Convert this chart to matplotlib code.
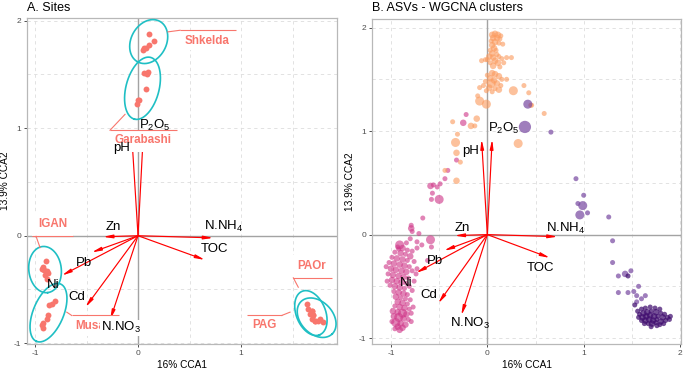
import numpy as np
import matplotlib
matplotlib.use("Agg")
import matplotlib.pyplot as plt
from matplotlib.patches import Rectangle

plt.rcParams['font.family'] = ['Liberation Sans', 'DejaVu Sans']
plt.rcParams['mathtext.fontset'] = 'custom'
plt.rcParams['mathtext.rm'] = 'Liberation Sans'
plt.rcParams['mathtext.it'] = 'Liberation Sans:italic'
plt.rcParams['mathtext.bf'] = 'Liberation Sans:bold'
plt.rcParams['axes.unicode_minus'] = False

# ---------------- data ----------------
env_names = ['pH', 'P2O5', 'Zn', 'N.NH4', 'TOC', 'Pb', 'Ni', 'Cd', 'N.NO3']
env_labels = ['pH', 'P$_2$O$_5$', 'Zn', 'N.NH$_4$', 'TOC', 'Pb', 'Ni', 'Cd', 'N.NO$_3$']
env_cca1 = [-0.06, 0.05, -0.34, 0.73, 0.65, -0.45, -0.74, -0.51, -0.27]
env_cca2 = [0.92, 0.92, -0.01, -0.02, -0.225, -0.155, -0.37, -0.665, -0.78]

site_names = ['Shkelda', 'Garabashi', 'IGAN', 'Musala', 'PAOr', 'PAG']
site_cca1 = {
    'Shkelda':   [0.107, 0.155, 0.107, 0.058, 0.049, 0.078],
    'Garabashi': [0.061, 0.100, 0.084, 0.078, 0.003, 0.013, -0.013],
    'IGAN':      [-0.893, -0.935, -0.913, -0.886, -0.871, -0.900, -0.880, -0.925],
    'Musala':    [-0.806, -0.838, -0.861, -0.871, -0.886, -0.925, -0.919, -0.935],
    'PAOr':      [1.638, 1.653, 1.686, 1.670, 1.702, 1.718, 1.686],
    'PAG':       [1.686, 1.702, 1.750, 1.767, 1.799, 1.718],
}
site_cca2 = {
    'Shkelda':   [1.877, 1.810, 1.770, 1.747, 1.730, 1.750],
    'Garabashi': [1.513, 1.519, 1.507, 1.368, 1.266, 1.259, 1.222],
    'IGAN':      [-0.237, -0.308, -0.318, -0.330, -0.348, -0.361, -0.400, -0.287],
    'Musala':    [-0.607, -0.632, -0.648, -0.741, -0.771, -0.811, -0.855, -0.833],
    'PAOr':      [-0.634, -0.680, -0.696, -0.726, -0.742, -0.789, -0.773],
    'PAG':       [-0.696, -0.742, -0.794, -0.773, -0.803, -0.789],
}

# ASV scores (cca1, cca2, abundance class)
asv_orange = [
    (0.05, 1.93, 2), (0.08, 1.94, 2), (0.11, 1.93, 2), (0.14, 1.92, 1), (0.06, 1.90, 2), (0.10, 1.90, 2),
    (0.13, 1.89, 1), (0.04, 1.87, 1), (0.08, 1.86, 2), (0.12, 1.85, 1), (0.16, 1.84, 1), (0.05, 1.83, 2),
    (0.07, 1.80, 2), (0.03, 1.78, 1), (0.09, 1.78, 1), (0.05, 1.75, 2), (0.10, 1.74, 1), (0.02, 1.72, 2),
    (0.06, 1.71, 2), (0.12, 1.72, 1), (0.15, 1.70, 1), (0.08, 1.68, 2), (0.03, 1.66, 1), (0.11, 1.66, 2),
    (0.17, 1.66, 1), (0.06, 1.63, 2), (0.13, 1.62, 1), (0.00, 1.69, 1),
    (-0.06, 1.68, 1), (-0.02, 1.69, 1), (0.20, 1.71, 1), (0.25, 1.71, 1),
    (0.05, 1.56, 2), (0.08, 1.55, 2), (0.00, 1.54, 1), (0.12, 1.53, 2), (0.03, 1.51, 2), (0.15, 1.50, 1),
    (0.07, 1.49, 2), (-0.02, 1.48, 1), (0.04, 1.46, 3), (0.10, 1.46, 2), (0.14, 1.44, 1), (-0.04, 1.44, 1),
    (0.02, 1.42, 2), (0.08, 1.41, 1), (0.12, 1.40, 2), (-0.01, 1.39, 1), (0.05, 1.38, 1),
    (0.20, 1.50, 1), (0.27, 1.39, 3), (0.38, 1.44, 1), (0.43, 1.37, 1), (-0.08, 1.42, 1), (-0.10, 1.34, 1),
    (-0.08, 1.29, 3), (-0.01, 1.26, 3), (-0.11, 1.12, 2), (-0.17, 1.05, 2), (-0.13, 1.05, 1),
    (-0.36, 1.09, 1), (-0.31, 0.97, 1), (-0.33, 0.89, 3), (-0.32, 0.79, 2), (-0.28, 0.70, 1),
    (-0.44, 0.62, 1), (-0.32, 0.52, 2), (0.32, 0.88, 3), (0.59, 1.17, 1), (0.46, 1.25, 1), (0.45, 1.25, 1),
]
asv_magenta = [
    (-0.22, 1.16, 1), (-0.25, 1.08, 2), (-0.32, 0.72, 1), (-0.41, 0.62, 1), (-0.44, 0.54, 1), (-0.49, 0.49, 1),
    (-0.59, 0.47, 2), (-0.56, 0.48, 1), (-0.52, 0.46, 1), (-0.57, 0.40, 1), (-0.58, 0.34, 1), (-0.50, 0.34, 3),
    (-0.67, 0.16, 1), (-0.79, 0.09, 1), (-0.79, 0.06, 2), (-0.78, 0.03, 1), (-0.71, 0.01, 1), (-0.80, -0.04, 1),
    (-0.91, -0.10, 3), (-0.84, -0.08, 1), (-0.73, -0.07, 1), (-0.68, -0.10, 1), (-0.59, -0.05, 3), (-0.58, -0.12, 1),
    (-0.92, -0.14, 1), (-0.73, -0.13, 1), (-0.62, -0.25, 1),
    (-0.93, -0.12, 1), (-0.88, -0.13, 2), (-0.83, -0.15, 1), (-0.78, -0.16, 1), (-0.96, -0.17, 1), (-0.90, -0.18, 2),
    (-0.85, -0.19, 1), (-0.80, -0.21, 2), (-0.99, -0.22, 1), (-0.94, -0.23, 2), (-0.88, -0.24, 2), (-0.83, -0.25, 1),
    (-0.76, -0.26, 1), (-1.02, -0.27, 1), (-0.97, -0.28, 2), (-0.91, -0.29, 2), (-0.86, -0.30, 2), (-0.81, -0.31, 1),
    (-1.00, -0.33, 2), (-0.95, -0.34, 2), (-0.89, -0.35, 2), (-0.84, -0.36, 2), (-0.78, -0.35, 1), (-1.03, -0.38, 1),
    (-0.98, -0.39, 2), (-0.92, -0.40, 2), (-0.87, -0.41, 2), (-0.82, -0.42, 1), (-0.99, -0.44, 2), (-0.94, -0.45, 2),
    (-0.89, -0.46, 2), (-0.84, -0.47, 1), (-1.01, -0.49, 1), (-0.96, -0.50, 2), (-0.91, -0.51, 2), (-0.86, -0.52, 1),
    (-0.81, -0.50, 1), (-0.97, -0.55, 1), (-0.92, -0.56, 2), (-0.87, -0.57, 2), (-0.83, -0.58, 1), (-0.95, -0.60, 2),
    (-0.90, -0.61, 1), (-0.85, -0.62, 1), (-0.93, -0.65, 2), (-0.88, -0.66, 2), (-0.83, -0.67, 1), (-0.96, -0.69, 1),
    (-0.91, -0.70, 2), (-0.86, -0.71, 2), (-0.81, -0.72, 1), (-0.98, -0.74, 2), (-0.93, -0.75, 2), (-0.88, -0.76, 3),
    (-0.84, -0.77, 2), (-0.79, -0.76, 1), (-0.97, -0.79, 2), (-0.92, -0.80, 3), (-0.87, -0.81, 2), (-0.82, -0.82, 1),
    (-0.99, -0.84, 1), (-0.95, -0.85, 3), (-0.90, -0.86, 2), (-0.85, -0.87, 2), (-0.93, -0.89, 2), (-0.88, -0.90, 2),
    (-0.96, -0.91, 1), (-0.91, -0.92, 2),
    (-0.74, -0.38, 1), (-0.73, -0.33, 1), (-0.76, -0.45, 1), (-0.78, -0.54, 1), (-0.80, -0.63, 1), (-0.77, -0.70, 1),
    (-0.79, -0.84, 1), (-1.05, -0.31, 1), (-1.04, -0.45, 1),
]
asv_purple = [
    (0.42, 1.26, 3), (0.39, 1.04, 4), (0.66, 0.99, 1), (0.92, 0.54, 1), (1.00, 0.38, 1), (0.94, 0.30, 1),
    (0.99, 0.28, 3), (0.96, 0.19, 3), (1.04, 0.21, 1), (1.26, 0.17, 1), (1.30, -0.06, 1), (1.30, -0.27, 1),
    (1.36, -0.40, 1), (1.43, -0.38, 2), (1.49, -0.35, 1), (1.57, -0.50, 1), (1.36, -0.56, 1), (1.46, -0.56, 1),
    (1.52, -0.55, 1), (1.55, -0.59, 1), (1.60, -0.62, 1), (1.64, -0.59, 1), (1.55, -0.65, 1),
]
asv_dark = [
    (1.56, -0.74, 1), (1.60, -0.72, 1), (1.64, -0.71, 1), (1.69, -0.70, 1), (1.74, -0.71, 1), (1.79, -0.72, 1),
    (1.58, -0.77, 1), (1.62, -0.76, 2), (1.66, -0.75, 2), (1.70, -0.74, 1), (1.75, -0.75, 2), (1.80, -0.76, 1),
    (1.84, -0.77, 1), (1.57, -0.80, 1), (1.61, -0.80, 2), (1.65, -0.79, 2), (1.69, -0.78, 2), (1.73, -0.79, 2),
    (1.77, -0.79, 1), (1.82, -0.80, 2), (1.87, -0.80, 1), (1.90, -0.79, 1), (1.60, -0.83, 1), (1.64, -0.83, 2),
    (1.68, -0.82, 2), (1.72, -0.83, 2), (1.76, -0.82, 1), (1.80, -0.84, 2), (1.85, -0.83, 1), (1.89, -0.82, 1),
    (1.63, -0.86, 1), (1.67, -0.86, 1), (1.71, -0.86, 2), (1.75, -0.85, 1), (1.79, -0.87, 1), (1.83, -0.86, 1),
    (1.70, -0.89, 1), (1.76, -0.88, 1), (1.46, -0.40, 1), (1.53, -0.68, 1),
]

# ---------------- layout / style ----------------
W, H = 685, 370
fig = plt.figure(figsize=(W / 100, H / 100), dpi=100)
axA = fig.add_axes([27 / W, 1 - 344.3 / H, 310 / W, (344.3 - 18) / H])
axB = fig.add_axes([372 / W, 1 - 344.3 / H, 309 / W, (344.3 - 19.3) / H])

RED = '#F8766D'
CYAN = '#1FBFC4'


def style(ax, xlim, ylim, xticks, xminor):
    ax.set_xlim(*xlim)
    ax.set_ylim(*ylim)
    ax.set_xticks(xticks)
    ax.set_xticks(xminor, minor=True)
    ax.set_yticks([-1, 0, 1, 2])
    ax.set_yticks([-0.5, 0.5, 1.5], minor=True)
    ax.grid(which='both', color='#DDDDDD', ls=(0, (4, 4)), lw=0.6)
    ax.set_axisbelow(True)
    for s in ax.spines.values():
        s.set_color('#B8B8B8')
        s.set_linewidth(0.9)
    ax.tick_params(which='major', labelsize=6, length=2.5, width=0.6, color='#333333',
                   labelcolor='#4D4D4D', pad=1.5)
    ax.tick_params(which='minor', length=0)
    ax.axhline(0, color='#A3A3A3', lw=1.0, zorder=1)
    ax.axvline(0, color='#A3A3A3', lw=1.0, zorder=1)
    ax.set_xlabel('16% CCA1', fontsize=7.3, labelpad=2.5)
    ax.set_ylabel('13.9% CCA2', fontsize=7.3, labelpad=3)


style(axA, (-1.078, 1.932), (-1.01, 2.025), [-1, 0, 1], [-0.5, 0.5, 1.5])
style(axB, (-1.197, 2.01), (-1.06, 2.08), [-1, 0, 1, 2], [-0.5, 0.5, 1.5])

fig.text(27 / W, 1 - 11 / H, 'A. Sites', fontsize=9, ha='left', va='baseline')
fig.text(372 / W, 1 - 11 / H, 'B. ASVs - WGCNA clusters', fontsize=9, ha='left', va='baseline')


def mvee(P, tol=1e-5, max_iter=5000):
    N, d = P.shape
    Q = np.vstack([P.T, np.ones(N)])
    u = np.ones(N) / N
    for _ in range(max_iter):
        X = Q @ np.diag(u) @ Q.T
        M = np.einsum('ij,ji->i', Q.T @ np.linalg.inv(X), Q)
        j = np.argmax(M)
        mx = M[j]
        step = (mx - d - 1) / ((d + 1) * (mx - 1))
        new_u = (1 - step) * u
        new_u[j] += step
        err = np.linalg.norm(new_u - u)
        u = new_u
        if err < tol:
            break
    c = P.T @ u
    A = np.linalg.inv(P.T @ np.diag(u) @ P - np.outer(c, c)) / d
    return A, c


def mark_ellipse(ax, xs, ys, expand_px=13):
    P = ax.transData.transform(np.column_stack([xs, ys]))
    A, c = mvee(P)
    w, V = np.linalg.eigh(A)
    radii = 1 / np.sqrt(w) + expand_px
    t = np.linspace(0, 2 * np.pi, 240)
    E = c + (V @ np.vstack([radii[0] * np.cos(t), radii[1] * np.sin(t)])).T
    D = ax.transData.inverted().transform(E)
    ax.plot(D[:, 0], D[:, 1], color=CYAN, lw=1.2, zorder=4)


# ---------------- Panel A ----------------
for name in site_names:
    axA.scatter(site_cca1[name], site_cca2[name], s=18, color=RED, lw=0, zorder=3)
    mark_ellipse(axA, site_cca1[name], site_cca2[name])

arrow_style = dict(arrowstyle='-|>,head_length=0.55,head_width=0.1', color='#FF0000', lw=0.85,
                   shrinkA=0, shrinkB=0, mutation_scale=10)


def draw_arrows(ax, z=5):
    for x, y in zip(env_cca1, env_cca2):
        ax.annotate('', xy=(x, y), xytext=(0, 0), arrowprops=arrow_style, zorder=z)


draw_arrows(axA)

# site label annotations: text centre, box (x0,x1,y0,y1), border edge y, connector
site_label_layout = {
    'Shkelda':   dict(text=(0.670, 1.815), box=(0.408, 0.951, 1.723, 1.911), edge=1.911,
                      con=[(0.291, 1.896), (0.408, 1.911)]),
    'Garabashi': dict(text=(0.053, 0.888), box=(-0.272, 0.379, 0.776, 0.981), edge=0.981,
                      con=[(-0.126, 1.129), (-0.272, 0.981)]),
    'IGAN':      dict(text=(-0.830, 0.109), box=(-1.029, -0.631, -0.006, 0.220), edge=-0.006,
                      con=[(-0.951, -0.111), (-0.990, -0.006)]),
    'Musala':    dict(text=(-0.413, -0.838), box=(-0.644, -0.182, -0.930, -0.742), edge=-0.742,
                      con=[(-0.692, -0.711), (-0.644, -0.742)]),
    'PAOr':      dict(text=(1.689, -0.281), box=(1.505, 1.883, -0.392, -0.179), edge=-0.392,
                      con=[(1.556, -0.479), (1.508, -0.392)]),
    'PAG':       dict(text=(1.223, -0.835), box=(1.055, 1.395, -0.930, -0.742), edge=-0.742,
                      con=[(1.476, -0.711), (1.395, -0.742)]),
}
for name in site_names:
    L = site_label_layout[name]
    x0, x1, y0, y1 = L['box']
    axA.add_patch(Rectangle((x0, y0), x1 - x0, y1 - y0, facecolor='white', edgecolor='none', zorder=6))
    axA.plot([x0, x1], [L['edge'], L['edge']], color=RED, lw=0.8, zorder=7, solid_capstyle='butt')
    cx, cy = zip(*L['con'])
    axA.plot(cx, cy, color=RED, lw=0.8, zorder=7)
    axA.text(*L['text'], name, color=RED, fontsize=8.4, fontweight='bold', ha='center', va='center', zorder=8)

envA_pos = [(-0.155, 0.82), (0.165, 1.03), (-0.24, 0.08), (0.835, 0.083), (0.74, -0.12),
            (-0.53, -0.25), (-0.82, -0.46), (-0.59, -0.57), (-0.17, -0.855)]
for lab, (x, y) in zip(env_labels, envA_pos):
    kw = {}
    if lab.startswith('N.NO'):
        kw['bbox'] = dict(facecolor='white', edgecolor='none', pad=0.3)
    axA.text(x, y, lab, fontsize=9.5, ha='center', va='center', zorder=9, **kw)

# ---------------- Panel B ----------------
size_map = {1: 13, 2: 22, 3: 42, 4: 78}
clusters = [(asv_magenta, '#D0398A', 0.62), (asv_orange, '#FB9B5F', 0.62),
            (asv_purple, '#7A4CA3', 0.72), (asv_dark, '#3F0C6E', 0.72)]
for pts, col, al in clusters:
    xs = [p[0] for p in pts]
    ys = [p[1] for p in pts]
    ss = [size_map[p[2]] for p in pts]
    axB.scatter(xs, ys, s=ss, color=col, alpha=al, lw=0, zorder=3)

draw_arrows(axB)
envB_pos = [(-0.17, 0.81), (0.17, 1.03), (-0.26, 0.06), (0.81, 0.06), (0.55, -0.32),
            (-0.54, -0.26), (-0.84, -0.47), (-0.61, -0.58), (-0.18, -0.86)]
for lab, (x, y) in zip(env_labels, envB_pos):
    axB.text(x, y, lab, fontsize=9.5, ha='center', va='center', zorder=9)

fig.savefig('out.png', dpi=100)
